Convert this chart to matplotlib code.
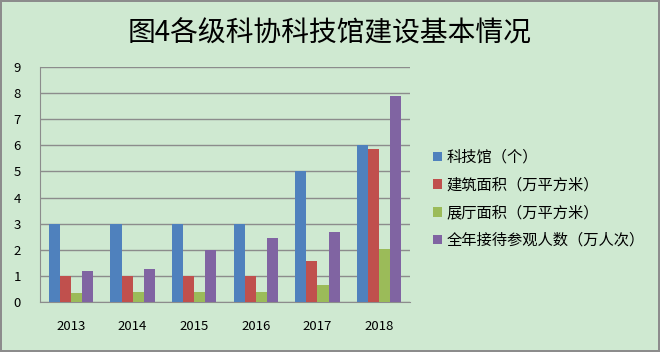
import numpy as np
import matplotlib.pyplot as plt

plt.rcParams['font.family'] = ['Noto Sans CJK SC', 'DejaVu Sans']

years = ['2013', '2014', '2015', '2016', '2017', '2018']
museums = [3, 3, 3, 3, 5, 6]
build_area = [1, 1, 1, 1, 1.57, 5.87]
hall_area = [0.33, 0.38, 0.38, 0.38, 0.65, 2.03]
visitors = [1.17, 1.28, 2.0, 2.46, 2.68, 7.88]

series = [
    (museums, '科技馆（个）', '#4F81BD'),
    (build_area, '建筑面积（万平方米）', '#C0504D'),
    (hall_area, '展厅面积（万平方米）', '#9BBB59'),
    (visitors, '全年接待参观人数（万人次）', '#8064A2'),
]

bg = '#CFE9D1'
fig = plt.figure(figsize=(6.6, 3.52), dpi=100, facecolor=bg,
                 edgecolor='#8C8C8C', linewidth=1.5)
ax = fig.add_axes([0.061, 0.142, 0.56, 0.668])
ax.set_facecolor(bg)

x = np.arange(len(years))
w = 0.18
for i, (vals, name, col) in enumerate(series):
    ax.bar(x + (i - 1.5) * w, vals, w, color=col, label=name, zorder=3)

ax.set_ylim(0, 9)
ax.set_yticks(range(10))
ax.set_xlim(-0.5, len(years) - 0.5)
ax.set_xticks(x)
ax.set_xticklabels(years)
ax.yaxis.grid(True, color='#8C8C8C', linewidth=1, zorder=0)
ax.tick_params(axis='both', length=0, labelsize=9.5, colors='#000000')
ax.tick_params(axis='y', pad=14)
ax.tick_params(axis='x', pad=13)
for s in ['top', 'right']:
    ax.spines[s].set_visible(False)
for s in ['left', 'bottom']:
    ax.spines[s].set_color('#8C8C8C')

fig.text(0.5, 0.905, '图4各级科协科技馆建设基本情况', ha='center', va='center',
         fontsize=20)

fig.legend(loc='center left', bbox_to_anchor=(0.635, 0.435), frameon=False,
           fontsize=11, handlelength=0.6, handleheight=0.6, handletextpad=0.3,
           labelspacing=0.7)

fig.savefig('out.png', dpi=100, facecolor=bg, edgecolor='#8C8C8C')
